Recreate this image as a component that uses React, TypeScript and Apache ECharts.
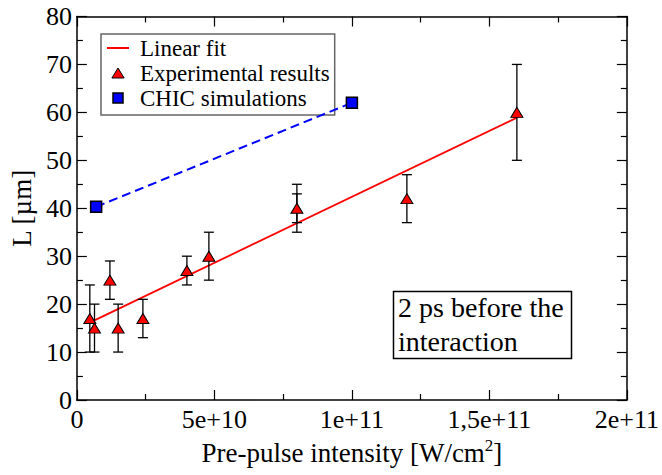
import React, { useEffect, useRef } from "react";
import * as echarts from "echarts";

// ---- Data ----
const xExp = [4.7e9, 6.4e9, 12e9, 15e9, 24e9, 40e9, 48e9, 80e9, 120e9, 160e9];
const yExp = [17, 15, 25, 15, 17, 27, 30, 40, 42, 60];
const errLow = [10, 10, 21, 10, 13, 24, 25, 35, 37, 50];
const errHigh = [24, 20, 29, 20, 21, 30, 35, 45, 47, 70];
// extra overlapping error bar at 8e10
const errX2 = [80e9];
const errLow2 = [37];
const errHigh2 = [43];

const xFit = [6e9, 160e9];
const yFit = [16.5, 58.9];

const xChic = [7e9, 1e11];
const yChic = [40.3, 62];

const xTickValues = [0, 5e10, 1e11, 1.5e11, 2e11];
const xTickLabels = ["0", "5e+10", "1e+11", "1,5e+11", "2e+11"];

const FONT = "Liberation Serif";

export default function App() {
  const ref = useRef<HTMLDivElement>(null);
  useEffect(() => {
    if (!ref.current) return;
    const chart = echarts.init(ref.current, undefined, { renderer: "svg" });

    const errData: number[][] = [];
    xExp.forEach((x, i) => errData.push([x, errLow[i], errHigh[i]]));
    errX2.forEach((x, i) => errData.push([x, errLow2[i], errHigh2[i]]));

    const axisCommon = {
      axisLine: { show: true, onZero: false, lineStyle: { color: "#000", width: 1.5 } },
      axisTick: { show: true, inside: true, length: 10, lineStyle: { color: "#000", width: 1.2 } },
      minorTick: { show: true, splitNumber: 2, length: 6, lineStyle: { color: "#000", width: 1.2 } },
      splitLine: { show: false },
    };

    const xFmt = (v: number) => {
      const i = xTickValues.findIndex((t) => Math.abs(t - v) < 1);
      return i >= 0 ? xTickLabels[i] : "";
    };

    chart.setOption({
      animation: false,
      backgroundColor: "#fff",
      textStyle: { fontFamily: FONT },
      grid: { left: 73, right: 34, top: 16.5, bottom: 75 },
      xAxis: [
        {
          type: "value",
          min: 0,
          max: 2e11,
          interval: 5e10,
          position: "bottom",
          ...axisCommon,
          axisLabel: {
            formatter: xFmt,
            fontFamily: FONT,
            fontSize: 26,
            color: "#000",
            margin: 6,
            showMaxLabel: true,
            showMinLabel: true,
          },
          name: "Pre-pulse intensity [W/cm{s|2}]",
          nameLocation: "middle",
          nameGap: 37,
          nameTextStyle: {
            fontFamily: FONT,
            fontSize: 27,
            color: "#000",
            rich: {
              s: { fontFamily: FONT, fontSize: 17, color: "#000", verticalAlign: "top", padding: [0, 0, 14, 0] },
            },
          },
        },
        {
          type: "value",
          min: 0,
          max: 2e11,
          interval: 5e10,
          position: "top",
          ...axisCommon,
          axisLabel: { show: false },
        },
      ],
      yAxis: [
        {
          type: "value",
          min: 0,
          max: 80,
          interval: 10,
          position: "left",
          ...axisCommon,
          axisLabel: { fontFamily: FONT, fontSize: 26, color: "#000", margin: 5 },
          name: "L [µm]",
          nameLocation: "middle",
          nameGap: 40,
          nameTextStyle: { fontFamily: FONT, fontSize: 27, color: "#000" },
        },
        {
          type: "value",
          min: 0,
          max: 80,
          interval: 10,
          position: "right",
          ...axisCommon,
          axisLabel: { show: false },
        },
      ],
      legend: {
        orient: "vertical",
        left: 101,
        top: 34,
        itemWidth: 22,
        itemHeight: 10,
        itemGap: 1,
        padding: [2, 5, 5, 6],
        borderColor: "#666",
        borderWidth: 1.5,
        backgroundColor: "#fff",
        textStyle: { fontFamily: FONT, fontSize: 23, color: "#000", lineHeight: 24, padding: [0, 0, 0, 6] },
        data: [
          { name: "Linear fit", icon: "path://M0,0H22V2H0Z", itemStyle: { color: "#ff0000", borderWidth: 0 } },
          {
            name: "Experimental results",
            icon: "path://M5.5,0L11,9H0Z",
            itemStyle: { color: "#ff0000", borderColor: "#000", borderWidth: 1 },
          },
          {
            name: "CHIC simulations",
            icon: "path://M0,0H1V1H0Z",
            itemStyle: { color: "#0000ff", borderColor: "#000", borderWidth: 1.5 },
          },
        ],
      },
      series: [
        {
          name: "Linear fit",
          type: "line",
          data: xFit.map((x, i) => [x, yFit[i]]),
          symbol: "none",
          lineStyle: { color: "#ff0000", width: 1.8 },
          itemStyle: { color: "#ff0000" },
          z: 2,
        },
        {
          name: "errorbars",
          type: "custom",
          data: errData,
          encode: { x: 0, y: [1, 2] },
          z: 3,
          renderItem: (params: any, api: any) => {
            const x = api.value(0);
            const lo = api.coord([x, api.value(1)]);
            const hi = api.coord([x, api.value(2)]);
            const hw = 5;
            const style = { stroke: "#000", lineWidth: 1.3 };
            return {
              type: "group",
              children: [
                { type: "line", shape: { x1: lo[0], y1: lo[1], x2: hi[0], y2: hi[1] }, style },
                { type: "line", shape: { x1: lo[0] - hw, y1: lo[1], x2: lo[0] + hw, y2: lo[1] }, style },
                { type: "line", shape: { x1: hi[0] - hw, y1: hi[1], x2: hi[0] + hw, y2: hi[1] }, style },
              ],
            };
          },
        },
        {
          name: "Experimental results",
          type: "scatter",
          data: xExp.map((x, i) => [x, yExp[i]]),
          symbol: "triangle",
          symbolSize: [12, 10],
          itemStyle: { color: "#ff0000", borderColor: "#000", borderWidth: 1, opacity: 1 },
          z: 4,
        },
        {
          name: "CHIC simulations",
          type: "line",
          data: xChic.map((x, i) => [x, yChic[i]]),
          symbol: "rect",
          symbolSize: 11,
          showSymbol: true,
          lineStyle: { color: "#0000ff", width: 2, type: [9, 5] },
          itemStyle: { color: "#0000ff", borderColor: "#000", borderWidth: 1.5 },
          z: 5,
        },
      ],
      graphic: [
        {
          type: "rect",
          shape: { x: 393.5, y: 291.5, width: 178, height: 67 },
          style: { fill: "#fff", stroke: "#000", lineWidth: 1.5 },
          z: 10,
        },
        {
          type: "text",
          x: 398,
          y: 290,
          style: {
            text: "2 ps before the\ninteraction",
            fontFamily: FONT,
            fontSize: 28,
            lineHeight: 34,
            fill: "#000",
          },
          z: 11,
        },
      ],
    });
    return () => chart.dispose();
  }, []);
  return <div ref={ref} style={{ position: "fixed", left: 0, top: 0, width: 662, height: 475 }} />;
}
